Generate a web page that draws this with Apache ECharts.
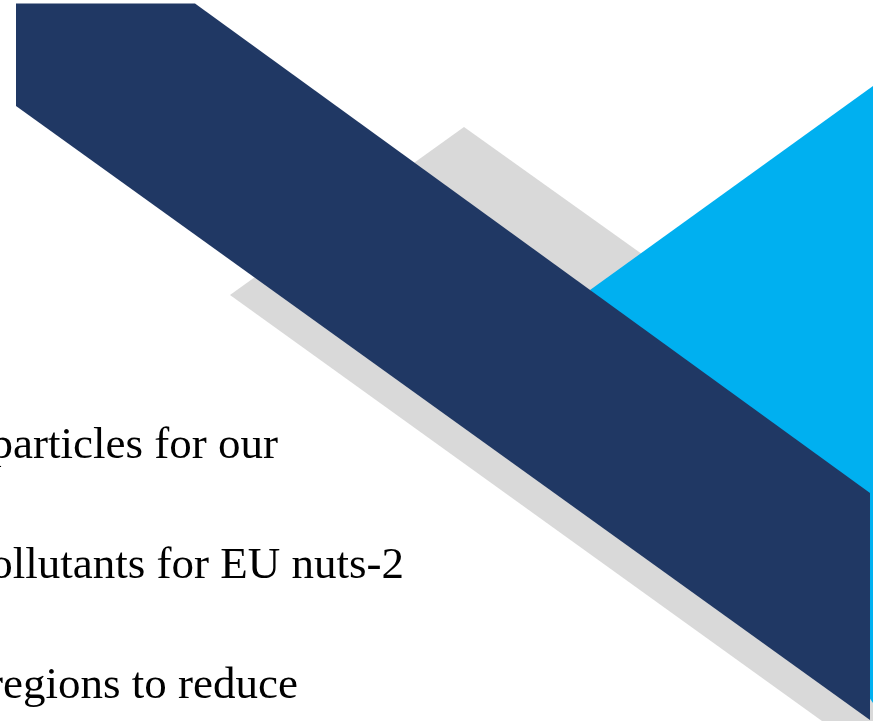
<!DOCTYPE html>
<html>
<head>
<meta charset="utf-8">
<script src="https://cdn.jsdelivr.net/npm/echarts@6/dist/echarts.min.js"></script>
<style>
html,body{margin:0;padding:0;background:#ffffff;}
#chart{width:877px;height:723px;}
</style>
</head>
<body>
<div id="chart"></div>
<script>
// Shape vertices (slide-space units)
const grayBand  = [[464,127],[873,419],[873,721],[822,721],[230,295]];
const cyanWedge = [[590,290],[873,86],[873,703]];
const navyBand  = [[16,3.6],[195,3.6],[870,493],[870,720],[16,106]];
const shapeColors = ['#D9D9D9','#00B0F0','#203864'];
const textLines = ['particles for our','pollutants for EU nuts-2','regions to reduce'];

function polySeries(name, pts, color){
  return {
    type:'custom', name:name, coordinateSystem:'cartesian2d',
    clip:false, silent:true,
    data:[pts[0]],
    renderItem:function(params, api){
      return {
        type:'polygon',
        shape:{points: pts.map(function(p){return api.coord(p);})},
        style:{fill:color}
      };
    }
  };
}

const font = '"Liberation Serif", "Times New Roman", "DejaVu Serif", serif';
const chart = echarts.init(document.getElementById('chart'), null, {renderer:'canvas'});
chart.setOption({
  animation:false,
  backgroundColor:'#ffffff',
  grid:{left:0,right:0,top:0,bottom:0},
  xAxis:{type:'value',min:0,max:877,show:false},
  yAxis:{type:'value',min:0,max:723,inverse:true,show:false},
  series:[
    polySeries('gray', grayBand, shapeColors[0]),
    polySeries('cyan', cyanWedge, shapeColors[1]),
    polySeries('navy', navyBand, shapeColors[2])
  ],
  graphic:[
    {type:'text', style:{text:textLines[0], x:278, y:446, fill:'#000', fontSize:45, fontFamily:font, align:'right', verticalAlign:'middle'}},
    {type:'text', style:{text:textLines[1], x:404, y:566, fill:'#000', fontSize:45, fontFamily:font, align:'right', verticalAlign:'middle'}},
    {type:'text', style:{text:textLines[2], x:298, y:686, fill:'#000', fontSize:45, fontFamily:font, align:'right', verticalAlign:'middle'}}
  ]
});
</script>
</body>
</html>
